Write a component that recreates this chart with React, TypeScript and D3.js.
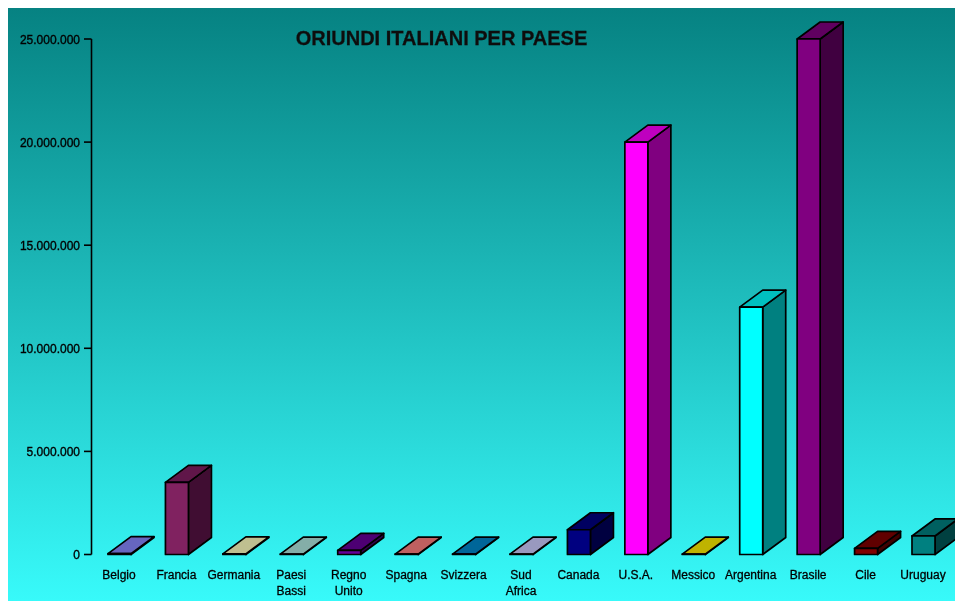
import React from "react";
import * as d3 from "d3";

const categories = ["Belgio","Francia","Germania","Paesi Bassi","Regno Unito","Spagna","Svizzera","Sud Africa","Canada","U.S.A.","Messico","Argentina","Brasile","Cile","Uruguay"];
const labelLines = [["Belgio"],["Francia"],["Germania"],["Paesi","Bassi"],["Regno","Unito"],["Spagna"],["Svizzera"],["Sud","Africa"],["Canada"],["U.S.A."],["Messico"],["Argentina"],["Brasile"],["Cile"],["Uruguay"]];
const values = [40000,3500000,30000,20000,200000,20000,20000,20000,1200000,20000000,20000,12000000,25000000,300000,900000];
const colors = ["#8888ff","#802060","#ffffc0","#b0e8e0","#660099","#ff8080","#0088cc","#ccccff","#000080","#ff00ff","#ffee00","#00ffff","#800080","#800000","#008080"];
const yTicks = [0,5000000,10000000,15000000,20000000,25000000];
const tickText = ["0","5.000.000","10.000.000","15.000.000","20.000.000","25.000.000"];
const title = "ORIUNDI ITALIANI PER PAESE";

const W = 955, H = 601, barW = 23, dx = 23, dy = 17;
const y = d3.scaleLinear().domain([0, 25000000]).range([554.5, 39]);
const x = d3.scalePoint<string>().domain(categories).range([108, 912]);
const font = "'Liberation Sans', Arial, sans-serif";
const shade = (c: string, k: number) => { const r = d3.rgb(c); return d3.rgb(r.r * k, r.g * k, r.b * k).formatHex(); };
const path = (pts: [number, number][]) => d3.line()(pts) + "Z";

export default function App() {
  return (
    <svg width={W} height={H} style={{ position: "absolute", left: 0, top: 0 }}>
      <defs>
        <linearGradient id="bg" x1="0" y1="0" x2="0" y2="1">
          <stop offset="0" stopColor="#068282" />
          <stop offset="1" stopColor="#38fafa" />
        </linearGradient>
        <filter id="soft" x="-2%" y="-2%" width="104%" height="104%">
          <feGaussianBlur stdDeviation="0.4" />
        </filter>
      </defs>
      <rect x={8} y={8} width={W - 8} height={H - 8} fill="url(#bg)" />
      <g filter="url(#soft)">
        <line x1={91.5} x2={91.5} y1={y(25000000)} y2={y(0)} stroke="#000" strokeWidth={1.6} />
        {yTicks.map((t, i) => (
          <g key={t}>
            <line x1={84} x2={91.5} y1={y(t)} y2={y(t)} stroke="#000" strokeWidth={1.6} />
            <text x={80} y={y(t) + 4.5} textAnchor="end" fontFamily={font} fontSize={12} fill="#000" stroke="#000" strokeWidth={0.35}>{tickText[i]}</text>
          </g>
        ))}
        {categories.map((c, i) => {
          const x0 = x(c)!, x1 = x0 + barW, yb = y(0), yt = y(values[i]);
          const col = colors[i];
          return (
            <g key={c} stroke="#000" strokeWidth={1.7} strokeLinejoin="round">
              <path d={path([[x1, yt], [x1 + dx, yt - dy], [x1 + dx, yb - dy], [x1, yb]])} fill={shade(col, 0.5)} />
              <path d={path([[x0, yt], [x0 + dx, yt - dy], [x1 + dx, yt - dy], [x1, yt]])} fill={shade(col, 0.75)} />
              <path d={path([[x0, yt], [x1, yt], [x1, yb], [x0, yb]])} fill={col} />
            </g>
          );
        })}
        {categories.map((c, i) => (
          <text key={c} textAnchor="middle" fontFamily={font} fontSize={12} fill="#000" stroke="#000" strokeWidth={0.3}>
            {labelLines[i].map((l, j) => (
              <tspan key={l} x={x(c)! + 11} y={578.5 + j * 16}>{l}</tspan>
            ))}
          </text>
        ))}
        <text x={441.5} y={45} textAnchor="middle" fontFamily={font} fontSize={20} fontWeight="bold" fill="#111" stroke="#111" strokeWidth={0.3}>{title}</text>
      </g>
    </svg>
  );
}
